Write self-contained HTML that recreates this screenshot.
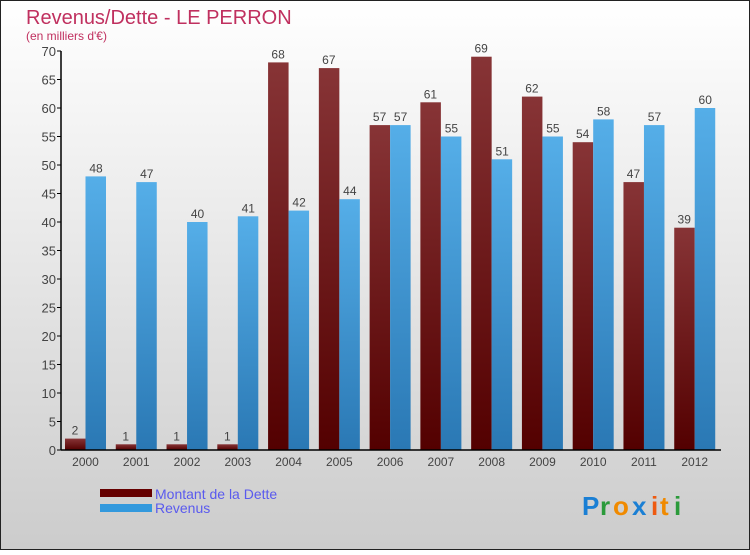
<!DOCTYPE html>
<html><head><meta charset="utf-8"><style>
html,body{margin:0;padding:0}
body{width:750px;height:550px;overflow:hidden;font-family:"Liberation Sans",sans-serif}
</style></head><body>
<svg width="750" height="550" xmlns="http://www.w3.org/2000/svg" id="svg">
<defs>
<linearGradient id="bg" x1="0" y1="0" x2="0" y2="1"><stop offset="0" stop-color="#ffffff"/><stop offset="1" stop-color="#cccccc"/></linearGradient>
<linearGradient id="gd" x1="0" y1="0" x2="0" y2="1"><stop offset="0" stop-color="#873436"/><stop offset="1" stop-color="#530000"/></linearGradient>
<linearGradient id="gr" x1="0" y1="0" x2="0" y2="1"><stop offset="0" stop-color="#55aee8"/><stop offset="1" stop-color="#2a78b4"/></linearGradient>
</defs>
<rect x="0.5" y="0.5" width="749" height="549" fill="url(#bg)" stroke="#222"/>
<text x="26" y="24" font-size="20" fill="#c0305f">Revenus/Dette - LE PERRON</text>
<text x="26" y="40" font-size="12" fill="#c0305f">(en milliers d'€)</text>
<g id="plot"></g>
<g>
<rect x="100" y="489" width="52" height="8" fill="#660000"/>
<text x="155" y="499" font-size="14" fill="#5a5aee">Montant de la Dette</text>
<rect x="100" y="504" width="52" height="8" fill="#3399dd"/>
<text x="155" y="513" font-size="14" fill="#5a5aee">Revenus</text>
</g>
<g font-size="26" font-weight="bold">
<text x="582" y="515" fill="#1a7fd4">P</text><text x="600" y="515" fill="#2a9a3a">r</text><text x="613" y="515" fill="#f08a00">o</text><text x="632" y="515" fill="#1a7fd4">x</text><text x="651" y="515" fill="#ee5a10">i</text><text x="660" y="515" fill="#f08a00">t</text><text x="674" y="515" fill="#2a9a3a">i</text>
</g>
</svg>
<script>
const years=["2000","2001","2002","2003","2004","2005","2006","2007","2008","2009","2010","2011","2012"];
const debt=[2,1,1,1,68,67,57,61,69,62,54,47,39];
const revenue=[48,47,40,41,42,44,57,55,51,55,58,57,60];
const yTicks=[0,5,10,15,20,25,30,35,40,45,50,55,60,65,70];
const NS="http://www.w3.org/2000/svg";
const g=document.getElementById("plot");
const x0=61,x1=721,yb=450,yt=51,ymax=70;
const gw=(x1-x0)/years.length;
const y=v=>yb-(v/ymax)*(yb-yt);
function el(t,a){const e=document.createElementNS(NS,t);for(const k in a)e.setAttribute(k,a[k]);g.appendChild(e);return e;}
yTicks.forEach(v=>{
 const t=el("line",{x1:x0-4,x2:x0,y1:y(v),y2:y(v),stroke:"#000"});
 
 
 const l=el("text",{x:x0-5,y:y(v)+5,"font-size":13,fill:"#444","text-anchor":"end"});
 l.textContent=v;
 
 
});
years.forEach((yr,i)=>{
 const gx=x0+gw*i;
 const d=el("rect",{x:gx+4,y:y(debt[i]),width:20.5,height:yb-y(debt[i]),fill:"url(#gd)"});
 
 
 const r=el("rect",{x:gx+24.5,y:y(revenue[i]),width:20.5,height:yb-y(revenue[i]),fill:"url(#gr)"});
 
 
 const dl=el("text",{x:gx+14,y:y(debt[i])-4,"font-size":12,fill:"#444","text-anchor":"middle"});
 dl.textContent=debt[i];
 
 
 const rl=el("text",{x:gx+35,y:y(revenue[i])-4,"font-size":12,fill:"#444","text-anchor":"middle"});
 rl.textContent=revenue[i];
 
 
 const xl=el("text",{x:gx+24.5,y:466,"font-size":12,fill:"#444","text-anchor":"middle"});
 xl.textContent=yr;
 
 
});
const ya=el("line",{x1:x0,x2:x0,y1:yt,y2:yb,stroke:"#000","stroke-width":1.5});


const xa=el("line",{x1:x0,x2:x1,y1:yb,y2:yb,stroke:"#000","stroke-width":1.5});


</script>
</body></html>
